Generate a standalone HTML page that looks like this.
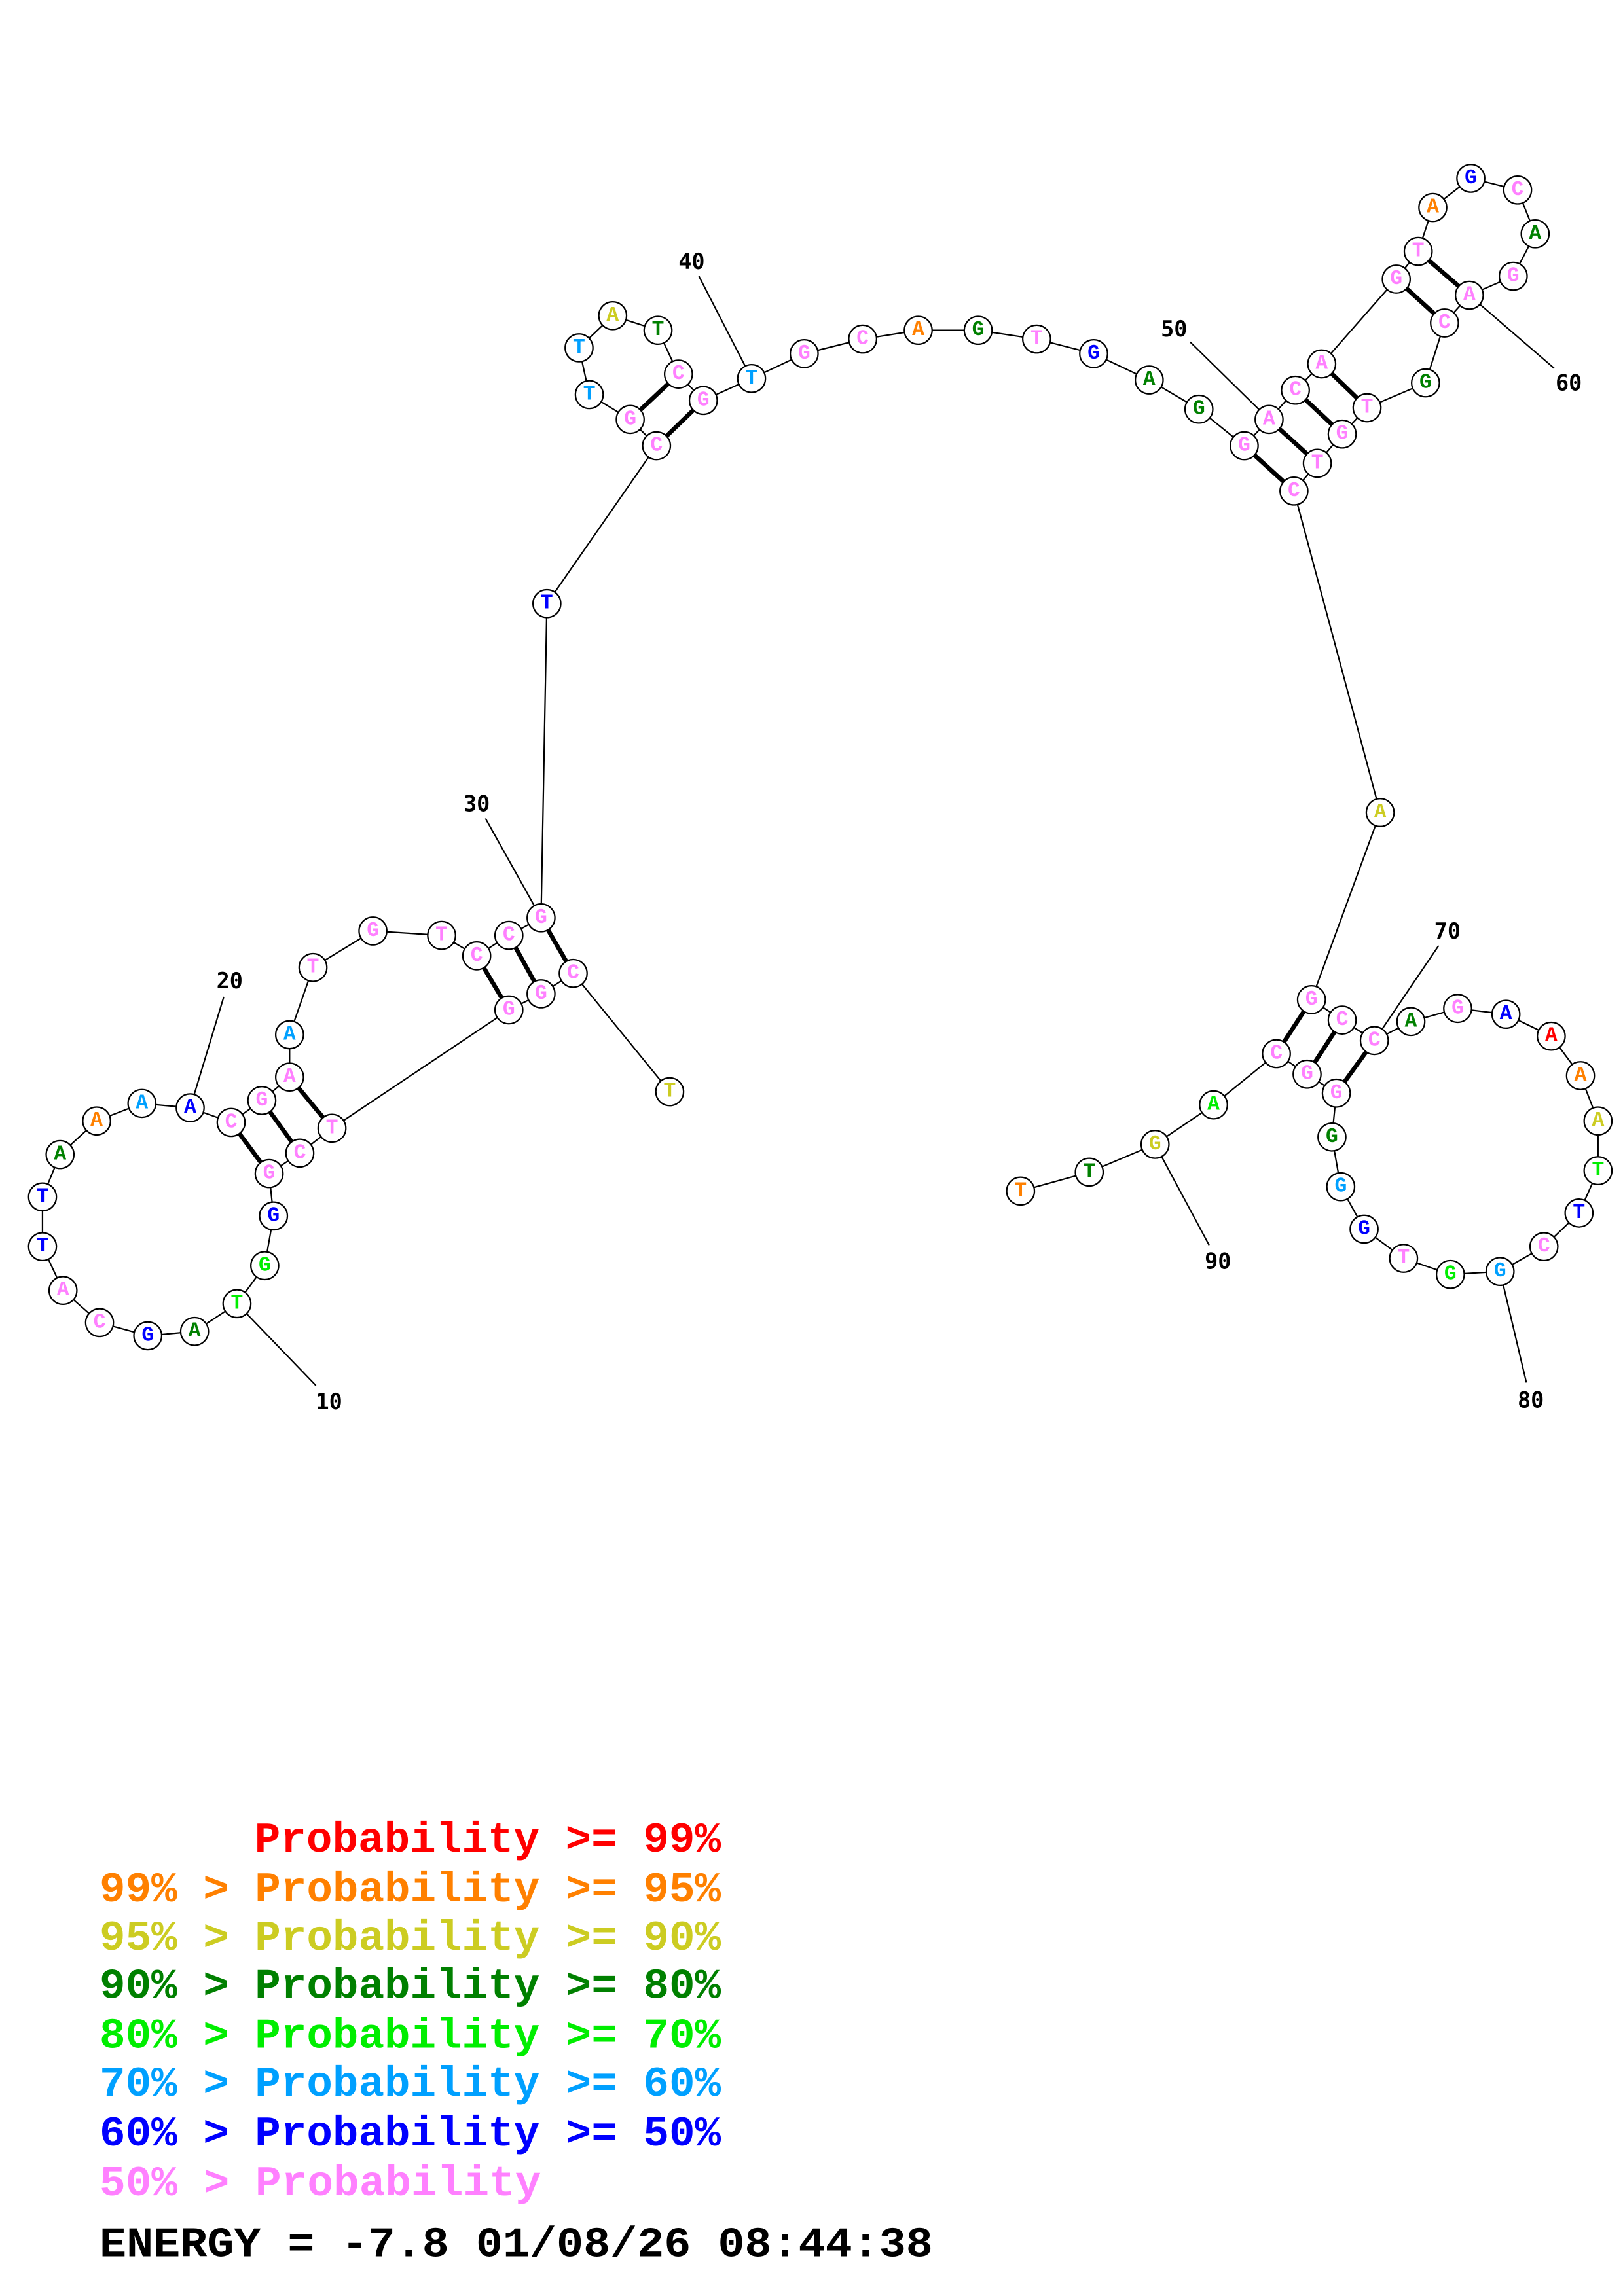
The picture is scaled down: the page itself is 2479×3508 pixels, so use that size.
<!DOCTYPE html>
<html><head><meta charset="utf-8"><style>
html,body{margin:0;padding:0;background:#fff}
svg{display:block}
.n circle{fill:#fff;stroke:#000;stroke-width:1}
.n text{font-family:"Liberation Mono","Courier New",monospace;font-weight:bold;font-size:14px;text-anchor:middle;dominant-baseline:central}
.lab{font-family:"DejaVu Sans Mono","Liberation Mono",monospace;font-weight:bold;font-size:15px;text-anchor:middle;dominant-baseline:central}
.leg{font-family:"Liberation Mono","Courier New",monospace;font-weight:bold;font-size:29px}
</style></head><body>
<svg width="2479" height="3508" viewBox="0 0 1110 1571" xmlns="http://www.w3.org/2000/svg">
<g stroke="#000" stroke-width="1" fill="none">
<polyline points="458,747 392,666 370,680 348,691 227,772 205,789 184,803 187,832 181,866 162,892 133,911 101,914 68,905 43,883 29,853 29,819 41,790 66,767 97,755 130,758 158,768 179,753 198,737 198,708 214,662 255,637 302,640 326,654 348,640 370,628 374,413 449,305 431,287 403,270 396,238 419,216 450,226 464,256 481,274 514,259 550,242 590,232 628,226 669,226 709,232 748,242 786,260 820,280 851,305 868,287 886,267 904,249 955,191 970,172 980,142 1006,122 1038,130 1050,160 1035,189 1005,202 988,221 975,262 935,279 918,297 901,317 885,336 944,556 897,684 918,698 940,712 965,699 997,690 1030,694 1061,709 1081,736 1093,767 1093,801 1080,830 1056,853 1026,870 992,872 960,861 933,841 917,812 911,778 914,748 894,735 873,721 830,756 790,783 745,802 698,815"/>
<line x1="162" y1="892" x2="216" y2="948"/>
<line x1="130" y1="758" x2="153" y2="682"/>
<line x1="370" y1="628" x2="332" y2="560"/>
<line x1="514" y1="259" x2="478" y2="189"/>
<line x1="868" y1="287" x2="814" y2="234"/>
<line x1="1005" y1="202" x2="1063" y2="252"/>
<line x1="940" y1="712" x2="984" y2="647"/>
<line x1="1026" y1="870" x2="1044" y2="946"/>
<line x1="790" y1="783" x2="827" y2="852"/>
</g>
<g stroke="#000" stroke-width="3">
<line x1="392" y1="666" x2="370" y2="628"/><line x1="370" y1="680" x2="348" y2="640"/><line x1="348" y1="691" x2="326" y2="654"/>
<line x1="227" y1="772" x2="198" y2="737"/><line x1="205" y1="789" x2="179" y2="753"/><line x1="184" y1="803" x2="158" y2="768"/>
<line x1="449" y1="305" x2="481" y2="274"/><line x1="431" y1="287" x2="464" y2="256"/>
<line x1="851" y1="305" x2="885" y2="336"/><line x1="868" y1="287" x2="901" y2="317"/><line x1="886" y1="267" x2="918" y2="297"/><line x1="904" y1="249" x2="935" y2="279"/>
<line x1="955" y1="191" x2="988" y2="221"/><line x1="970" y1="172" x2="1005" y2="202"/>
<line x1="897" y1="684" x2="873" y2="721"/><line x1="918" y1="698" x2="894" y2="735"/><line x1="940" y1="712" x2="914" y2="748"/>
</g>
<g>
<text class="lab" x="225" y="959">10</text>
<text class="lab" x="157" y="671">20</text>
<text class="lab" x="326" y="550">30</text>
<text class="lab" x="473" y="179">40</text>
<text class="lab" x="803" y="225">50</text>
<text class="lab" x="1073" y="262">60</text>
<text class="lab" x="990" y="637">70</text>
<text class="lab" x="1047" y="958">80</text>
<text class="lab" x="833" y="863">90</text>
</g>
<g class="n">
<circle cx="458" cy="747" r="9.5"/><text x="458" y="747" fill="#cccc22">T</text>
<circle cx="392" cy="666" r="9.5"/><text x="392" y="666" fill="#ff80ff">C</text>
<circle cx="370" cy="680" r="9.5"/><text x="370" y="680" fill="#ff80ff">G</text>
<circle cx="348" cy="691" r="9.5"/><text x="348" y="691" fill="#ff80ff">G</text>
<circle cx="227" cy="772" r="9.5"/><text x="227" y="772" fill="#ff80ff">T</text>
<circle cx="205" cy="789" r="9.5"/><text x="205" y="789" fill="#ff80ff">C</text>
<circle cx="184" cy="803" r="9.5"/><text x="184" y="803" fill="#ff80ff">G</text>
<circle cx="187" cy="832" r="9.5"/><text x="187" y="832" fill="#0000ff">G</text>
<circle cx="181" cy="866" r="9.5"/><text x="181" y="866" fill="#00ee00">G</text>
<circle cx="162" cy="892" r="9.5"/><text x="162" y="892" fill="#00ee00">T</text>
<circle cx="133" cy="911" r="9.5"/><text x="133" y="911" fill="#008000">A</text>
<circle cx="101" cy="914" r="9.5"/><text x="101" y="914" fill="#0000ff">G</text>
<circle cx="68" cy="905" r="9.5"/><text x="68" y="905" fill="#ff80ff">C</text>
<circle cx="43" cy="883" r="9.5"/><text x="43" y="883" fill="#ff80ff">A</text>
<circle cx="29" cy="853" r="9.5"/><text x="29" y="853" fill="#0000ff">T</text>
<circle cx="29" cy="819" r="9.5"/><text x="29" y="819" fill="#0000ff">T</text>
<circle cx="41" cy="790" r="9.5"/><text x="41" y="790" fill="#008000">A</text>
<circle cx="66" cy="767" r="9.5"/><text x="66" y="767" fill="#ff8000">A</text>
<circle cx="97" cy="755" r="9.5"/><text x="97" y="755" fill="#00a0ff">A</text>
<circle cx="130" cy="758" r="9.5"/><text x="130" y="758" fill="#0000ff">A</text>
<circle cx="158" cy="768" r="9.5"/><text x="158" y="768" fill="#ff80ff">C</text>
<circle cx="179" cy="753" r="9.5"/><text x="179" y="753" fill="#ff80ff">G</text>
<circle cx="198" cy="737" r="9.5"/><text x="198" y="737" fill="#ff80ff">A</text>
<circle cx="198" cy="708" r="9.5"/><text x="198" y="708" fill="#00a0ff">A</text>
<circle cx="214" cy="662" r="9.5"/><text x="214" y="662" fill="#ff80ff">T</text>
<circle cx="255" cy="637" r="9.5"/><text x="255" y="637" fill="#ff80ff">G</text>
<circle cx="302" cy="640" r="9.5"/><text x="302" y="640" fill="#ff80ff">T</text>
<circle cx="326" cy="654" r="9.5"/><text x="326" y="654" fill="#ff80ff">C</text>
<circle cx="348" cy="640" r="9.5"/><text x="348" y="640" fill="#ff80ff">C</text>
<circle cx="370" cy="628" r="9.5"/><text x="370" y="628" fill="#ff80ff">G</text>
<circle cx="374" cy="413" r="9.5"/><text x="374" y="413" fill="#0000ff">T</text>
<circle cx="449" cy="305" r="9.5"/><text x="449" y="305" fill="#ff80ff">C</text>
<circle cx="431" cy="287" r="9.5"/><text x="431" y="287" fill="#ff80ff">G</text>
<circle cx="403" cy="270" r="9.5"/><text x="403" y="270" fill="#00a0ff">T</text>
<circle cx="396" cy="238" r="9.5"/><text x="396" y="238" fill="#00a0ff">T</text>
<circle cx="419" cy="216" r="9.5"/><text x="419" y="216" fill="#cccc22">A</text>
<circle cx="450" cy="226" r="9.5"/><text x="450" y="226" fill="#008000">T</text>
<circle cx="464" cy="256" r="9.5"/><text x="464" y="256" fill="#ff80ff">C</text>
<circle cx="481" cy="274" r="9.5"/><text x="481" y="274" fill="#ff80ff">G</text>
<circle cx="514" cy="259" r="9.5"/><text x="514" y="259" fill="#00a0ff">T</text>
<circle cx="550" cy="242" r="9.5"/><text x="550" y="242" fill="#ff80ff">G</text>
<circle cx="590" cy="232" r="9.5"/><text x="590" y="232" fill="#ff80ff">C</text>
<circle cx="628" cy="226" r="9.5"/><text x="628" y="226" fill="#ff8000">A</text>
<circle cx="669" cy="226" r="9.5"/><text x="669" y="226" fill="#008000">G</text>
<circle cx="709" cy="232" r="9.5"/><text x="709" y="232" fill="#ff80ff">T</text>
<circle cx="748" cy="242" r="9.5"/><text x="748" y="242" fill="#0000ff">G</text>
<circle cx="786" cy="260" r="9.5"/><text x="786" y="260" fill="#008000">A</text>
<circle cx="820" cy="280" r="9.5"/><text x="820" y="280" fill="#008000">G</text>
<circle cx="851" cy="305" r="9.5"/><text x="851" y="305" fill="#ff80ff">G</text>
<circle cx="868" cy="287" r="9.5"/><text x="868" y="287" fill="#ff80ff">A</text>
<circle cx="886" cy="267" r="9.5"/><text x="886" y="267" fill="#ff80ff">C</text>
<circle cx="904" cy="249" r="9.5"/><text x="904" y="249" fill="#ff80ff">A</text>
<circle cx="955" cy="191" r="9.5"/><text x="955" y="191" fill="#ff80ff">G</text>
<circle cx="970" cy="172" r="9.5"/><text x="970" y="172" fill="#ff80ff">T</text>
<circle cx="980" cy="142" r="9.5"/><text x="980" y="142" fill="#ff8000">A</text>
<circle cx="1006" cy="122" r="9.5"/><text x="1006" y="122" fill="#0000ff">G</text>
<circle cx="1038" cy="130" r="9.5"/><text x="1038" y="130" fill="#ff80ff">C</text>
<circle cx="1050" cy="160" r="9.5"/><text x="1050" y="160" fill="#008000">A</text>
<circle cx="1035" cy="189" r="9.5"/><text x="1035" y="189" fill="#ff80ff">G</text>
<circle cx="1005" cy="202" r="9.5"/><text x="1005" y="202" fill="#ff80ff">A</text>
<circle cx="988" cy="221" r="9.5"/><text x="988" y="221" fill="#ff80ff">C</text>
<circle cx="975" cy="262" r="9.5"/><text x="975" y="262" fill="#008000">G</text>
<circle cx="935" cy="279" r="9.5"/><text x="935" y="279" fill="#ff80ff">T</text>
<circle cx="918" cy="297" r="9.5"/><text x="918" y="297" fill="#ff80ff">G</text>
<circle cx="901" cy="317" r="9.5"/><text x="901" y="317" fill="#ff80ff">T</text>
<circle cx="885" cy="336" r="9.5"/><text x="885" y="336" fill="#ff80ff">C</text>
<circle cx="944" cy="556" r="9.5"/><text x="944" y="556" fill="#cccc22">A</text>
<circle cx="897" cy="684" r="9.5"/><text x="897" y="684" fill="#ff80ff">G</text>
<circle cx="918" cy="698" r="9.5"/><text x="918" y="698" fill="#ff80ff">C</text>
<circle cx="940" cy="712" r="9.5"/><text x="940" y="712" fill="#ff80ff">C</text>
<circle cx="965" cy="699" r="9.5"/><text x="965" y="699" fill="#008000">A</text>
<circle cx="997" cy="690" r="9.5"/><text x="997" y="690" fill="#ff80ff">G</text>
<circle cx="1030" cy="694" r="9.5"/><text x="1030" y="694" fill="#0000ff">A</text>
<circle cx="1061" cy="709" r="9.5"/><text x="1061" y="709" fill="#ff0000">A</text>
<circle cx="1081" cy="736" r="9.5"/><text x="1081" y="736" fill="#ff8000">A</text>
<circle cx="1093" cy="767" r="9.5"/><text x="1093" y="767" fill="#cccc22">A</text>
<circle cx="1093" cy="801" r="9.5"/><text x="1093" y="801" fill="#00ee00">T</text>
<circle cx="1080" cy="830" r="9.5"/><text x="1080" y="830" fill="#0000ff">T</text>
<circle cx="1056" cy="853" r="9.5"/><text x="1056" y="853" fill="#ff80ff">C</text>
<circle cx="1026" cy="870" r="9.5"/><text x="1026" y="870" fill="#00a0ff">G</text>
<circle cx="992" cy="872" r="9.5"/><text x="992" y="872" fill="#00ee00">G</text>
<circle cx="960" cy="861" r="9.5"/><text x="960" y="861" fill="#ff80ff">T</text>
<circle cx="933" cy="841" r="9.5"/><text x="933" y="841" fill="#0000ff">G</text>
<circle cx="917" cy="812" r="9.5"/><text x="917" y="812" fill="#00a0ff">G</text>
<circle cx="911" cy="778" r="9.5"/><text x="911" y="778" fill="#008000">G</text>
<circle cx="914" cy="748" r="9.5"/><text x="914" y="748" fill="#ff80ff">G</text>
<circle cx="894" cy="735" r="9.5"/><text x="894" y="735" fill="#ff80ff">G</text>
<circle cx="873" cy="721" r="9.5"/><text x="873" y="721" fill="#ff80ff">C</text>
<circle cx="830" cy="756" r="9.5"/><text x="830" y="756" fill="#00ee00">A</text>
<circle cx="790" cy="783" r="9.5"/><text x="790" y="783" fill="#cccc22">G</text>
<circle cx="745" cy="802" r="9.5"/><text x="745" y="802" fill="#008000">T</text>
<circle cx="698" cy="815" r="9.5"/><text x="698" y="815" fill="#ff8000">T</text>
</g>
<g class="leg">
<text x="174" y="1267" fill="#ff0000" textLength="319" lengthAdjust="spacingAndGlyphs">Probability &gt;= 99%</text>
<text x="68" y="1301" fill="#ff8000" textLength="425" lengthAdjust="spacingAndGlyphs">99% &gt; Probability &gt;= 95%</text>
<text x="68" y="1334" fill="#cccc22" textLength="425" lengthAdjust="spacingAndGlyphs">95% &gt; Probability &gt;= 90%</text>
<text x="68" y="1367" fill="#008000" textLength="425" lengthAdjust="spacingAndGlyphs">90% &gt; Probability &gt;= 80%</text>
<text x="68" y="1401" fill="#00ee00" textLength="425" lengthAdjust="spacingAndGlyphs">80% &gt; Probability &gt;= 70%</text>
<text x="68" y="1434" fill="#00a0ff" textLength="425" lengthAdjust="spacingAndGlyphs">70% &gt; Probability &gt;= 60%</text>
<text x="68" y="1468" fill="#0000ff" textLength="425" lengthAdjust="spacingAndGlyphs">60% &gt; Probability &gt;= 50%</text>
<text x="68" y="1502" fill="#ff80ff" textLength="302" lengthAdjust="spacingAndGlyphs">50% &gt; Probability</text>
<text x="68" y="1544" fill="#000" textLength="570" lengthAdjust="spacingAndGlyphs">ENERGY = -7.8  01/08/26 08:44:38</text>
</g>
</svg>
</body></html>
